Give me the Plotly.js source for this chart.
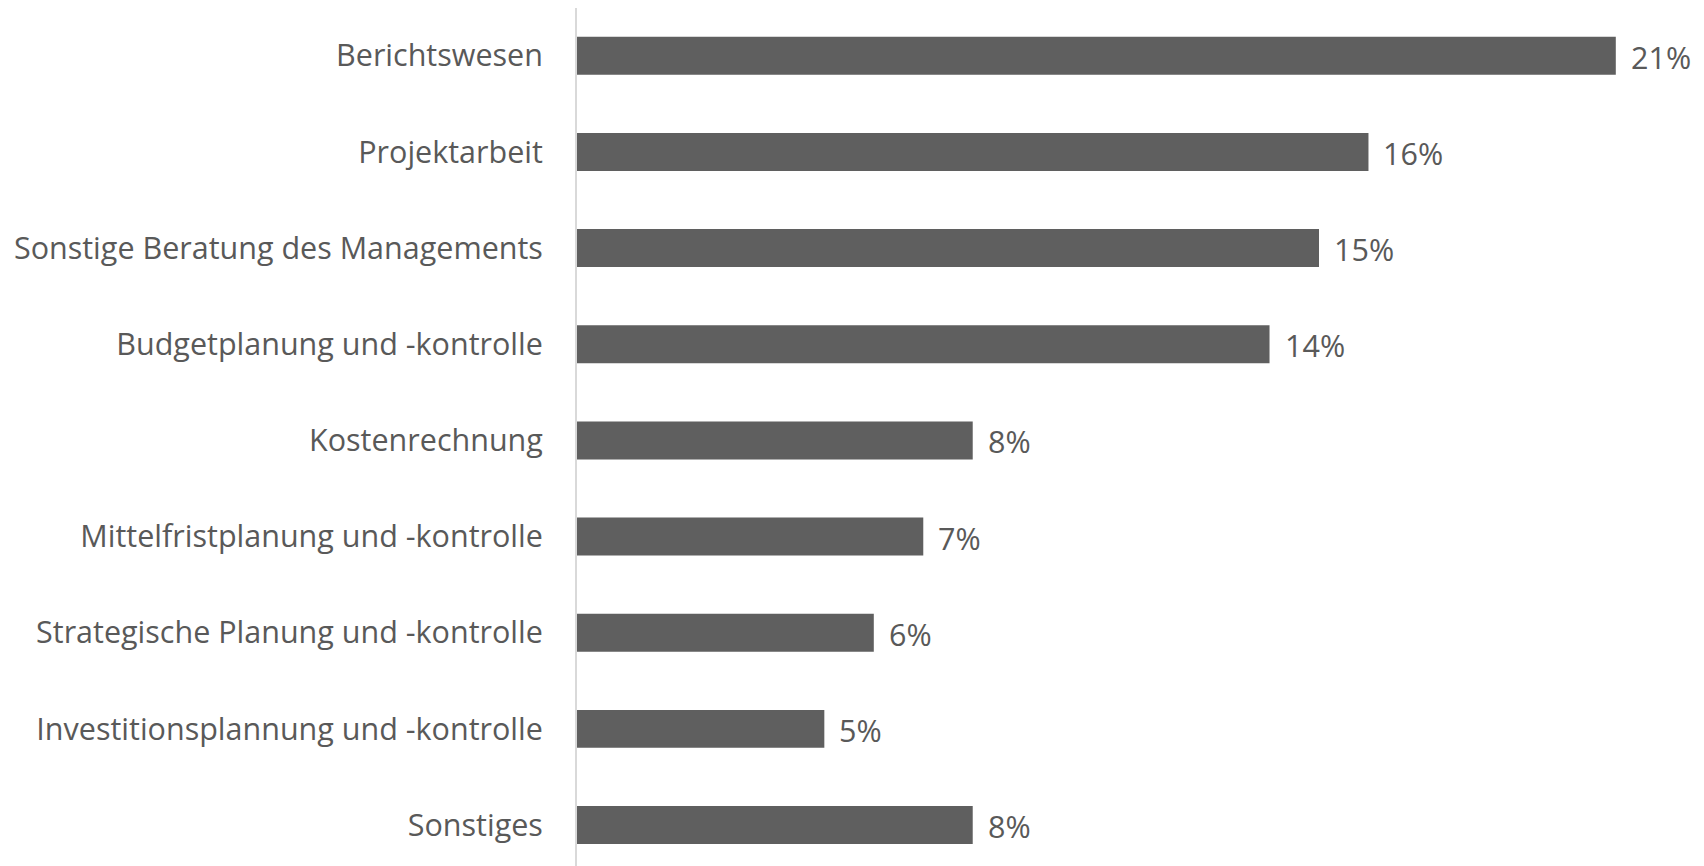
<!DOCTYPE html>
<html><head><meta charset="utf-8">
<script src="https://cdn.plot.ly/plotly-3.0.1.min.js"></script>
<style>html,body{margin:0;padding:0;background:#fff;}#chart{width:1704px;height:866px;}</style>
</head><body><div id="chart"></div>
<script>
const categories = ["Berichtswesen","Projektarbeit","Sonstige Beratung des Managements","Budgetplanung und -kontrolle","Kostenrechnung","Mittelfristplanung und -kontrolle","Strategische Planung und -kontrolle","Investitionsplannung und -kontrolle","Sonstiges"];
const values = [21,16,15,14,8,7,6,5,8];
const labels = values.map(v => v + "%");

const font = "'Open Sans', 'Noto Sans', sans-serif";
const trace = {
  type: "bar", orientation: "h",
  x: values, y: categories,
  marker: {color: "#5f5f5f"},
  hoverinfo: "none"
};
const annotations = categories.map((c,i) => ({
  x: values[i], y: c, xref: "x", yref: "y", text: labels[i],
  showarrow: false, xanchor: "left", xshift: 13, yshift: -1,
  font: {family: font, size: 30.5, color: "#595959"}
}));
const layout = {
  width: 1704, height: 866,
  margin: {l: 577, r: 14, t: 8, b: 0},
  paper_bgcolor: "#fff", plot_bgcolor: "#fff",
  bargap: 0.605,
  showlegend: false,
  xaxis: {range: [0, 22.5], showgrid: false, zeroline: false, showticklabels: false, showline: false, fixedrange: true},
  yaxis: {type: "category", range: [8.426, -0.497], showgrid: false, zeroline: false,
    showline: true, linecolor: "#d9d9d9", linewidth: 2,
    ticks: "", ticklabelstandoff: 26,
    tickfont: {family: font, size: 30.5, color: "#595959"}},
  annotations: annotations
};
Plotly.newPlot("chart", [trace], layout, {staticPlot: true, displayModeBar: false});
</script></body></html>
